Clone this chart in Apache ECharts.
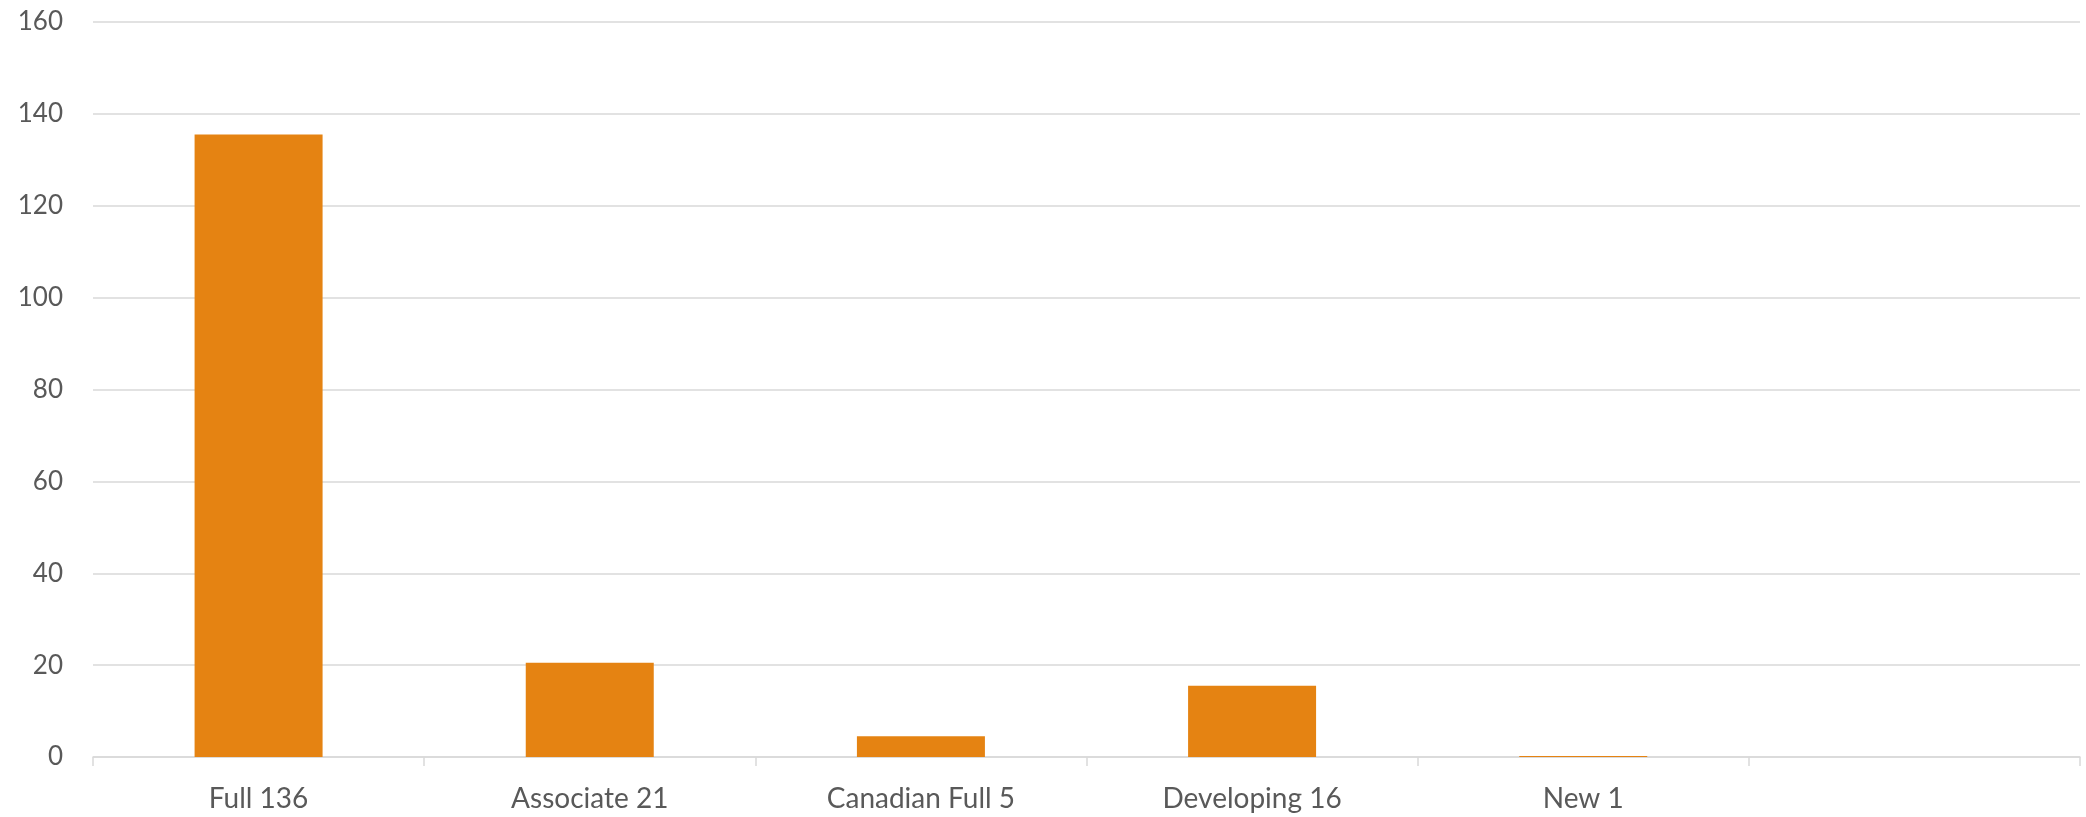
<!DOCTYPE html>
<html>
<head>
<meta charset="utf-8">
<script src="https://cdn.jsdelivr.net/npm/echarts@6/dist/echarts.min.js"></script>
<style>
html,body{margin:0;padding:0;background:#fff;}
#chart{width:2086px;height:817px;}
</style>
</head>
<body>
<div id="chart"></div>
<script>
const categories = ['Full 136', 'Associate 21', 'Canadian Full 5', 'Developing 16', 'New 1', ''];
const values = [135.5, 20.5, 4.5, 15.5, 0.2, null];
const yTicks = [0, 20, 40, 60, 80, 100, 120, 140, 160];

const chart = echarts.init(document.getElementById('chart'));
chart.setOption({
  animation: false,
  backgroundColor: '#ffffff',
  grid: { left: 93, right: 6, top: 22, bottom: 60, containLabel: false },
  xAxis: {
    type: 'category',
    data: categories,
    boundaryGap: true,
    axisLine: { show: true, lineStyle: { color: '#D9D9D9', width: 1.5 } },
    axisTick: { show: true, length: 9, alignWithLabel: false, lineStyle: { color: '#D9D9D9', width: 1.5 } },
    axisLabel: { color: '#595959', fontFamily: 'Lato', fontSize: 28, margin: 28, interval: 0 },
    splitLine: { show: false }
  },
  yAxis: {
    type: 'value',
    min: yTicks[0],
    max: yTicks[yTicks.length - 1],
    interval: 20,
    axisLine: { show: false },
    axisTick: { show: false },
    axisLabel: { color: '#595959', fontFamily: 'Lato', fontSize: 26, margin: 30 },
    splitLine: { show: true, lineStyle: { color: '#D9D9D9', width: 1.5 } }
  },
  series: [{
    type: 'bar',
    data: values,
    barWidth: 128,
    itemStyle: { color: '#E58312' }
  }]
});
</script>
</body>
</html>
